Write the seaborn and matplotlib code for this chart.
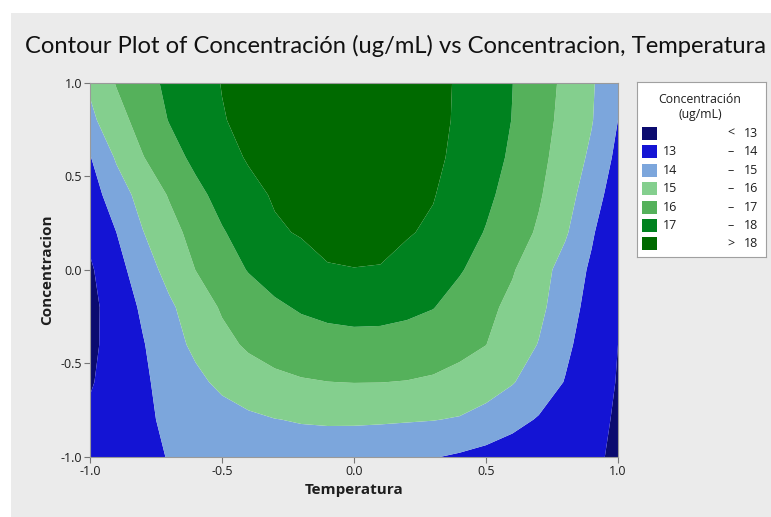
import numpy as np
import matplotlib
matplotlib.use("Agg")
import matplotlib.pyplot as plt
from matplotlib.patches import Rectangle
import seaborn as sns

# ---------------- data ----------------
temperatura = [-1.0, -0.9, -0.8, -0.7, -0.6, -0.5, -0.4, -0.3, -0.2, -0.1, 0.0,
               0.1, 0.2, 0.3, 0.4, 0.5, 0.6, 0.7, 0.8, 0.9, 1.0]
concentracion = [1.0, 0.8, 0.6, 0.4, 0.2, 0.0, -0.2, -0.4, -0.6, -0.8, -1.0]

resp_c_p10 = [15.15, 16.06, 16.67, 17.19, 17.61, 18.03, 18.30, 18.50, 18.63, 18.70, 18.70, 18.63, 18.48, 18.25, 17.90, 17.45, 17.01, 16.43, 15.81, 15.09, 14.35]
resp_c_p08 = [14.78, 15.63, 16.39, 17.04, 17.50, 17.95, 18.22, 18.42, 18.56, 18.63, 18.63, 18.56, 18.42, 18.22, 17.89, 17.44, 16.98, 16.37, 15.73, 15.06, 14.00]
resp_c_p06 = [13.95, 15.11, 15.96, 16.63, 17.22, 17.71, 18.07, 18.27, 18.40, 18.48, 18.50, 18.45, 18.33, 18.15, 17.83, 17.36, 16.86, 16.25, 15.59, 14.82, 13.75]
resp_c_p04 = [13.55, 14.51, 15.36, 16.07, 16.75, 17.30, 17.77, 18.08, 18.22, 18.30, 18.32, 18.27, 18.16, 18.04, 17.65, 17.19, 16.66, 16.10, 15.39, 14.48, 13.45]
resp_c_p02 = [13.20, 14.00, 14.97, 15.67, 16.32, 16.93, 17.38, 17.90, 18.06, 18.12, 18.15, 18.12, 18.06, 17.88, 17.40, 16.95, 16.44, 15.88, 15.12, 14.12, 13.15]
resp_c_000 = [12.88, 13.65, 14.53, 15.32, 16.01, 16.53, 17.05, 17.40, 17.68, 17.97, 17.99, 17.98, 17.76, 17.48, 17.08, 16.61, 16.08, 15.39, 14.63, 13.85, 13.10]
resp_c_m02 = [12.75, 13.43, 14.15, 14.84, 15.49, 16.10, 16.48, 16.85, 17.10, 17.25, 17.32, 17.30, 17.20, 17.03, 16.63, 16.23, 15.77, 15.22, 14.47, 13.65, 13.10]
resp_c_m04 = [12.80, 13.37, 13.94, 14.60, 15.21, 15.74, 16.13, 16.38, 16.55, 16.66, 16.71, 16.70, 16.62, 16.48, 16.26, 16.01, 15.51, 14.96, 14.19, 13.55, 13.00]
resp_c_m06 = [12.92, 13.40, 13.86, 14.32, 14.77, 15.22, 15.55, 15.78, 15.92, 15.99, 16.02, 16.01, 15.97, 15.88, 15.70, 15.45, 15.06, 14.51, 13.96, 13.45, 12.95]
resp_c_m08 = [13.15, 13.50, 13.85, 14.15, 14.40, 14.60, 14.82, 14.98, 15.06, 15.10, 15.11, 15.10, 15.07, 15.03, 14.93, 14.65, 14.28, 13.93, 13.55, 13.25, 12.90]
resp_c_m10 = [13.40, 13.62, 13.82, 14.03, 14.22, 14.38, 14.48, 14.53, 14.55, 14.52, 14.45, 14.33, 14.19, 14.04, 13.88, 13.70, 13.53, 13.37, 13.22, 13.08, 12.92]

contour_breaks = [13, 14, 15, 16, 17, 18]
legend_low = ["", "13", "14", "15", "16", "17", ""]
legend_sign = ["<", "–", "–", "–", "–", "–", ">"]
legend_high = ["13", "14", "15", "16", "17", "18", "18"]
band_colors = ["#0b0b6f", "#1414d4", "#7ca6dc", "#84cf8e", "#55b15b", "#00821f", "#006a00"]
x_ticks = [-1.0, -0.5, 0.0, 0.5, 1.0]
y_ticks = [-1.0, -0.5, 0.0, 0.5, 1.0]

title_text = "Contour Plot of Concentración (ug/mL) vs Concentracion, Temperatura"
legend_title = "Concentración\n(ug/mL)"

# ---------------- style ----------------
sns.set_theme(style="white")
plt.rcParams["font.family"] = ["Open Sans", "DejaVu Sans"]
bg = "#ebebeb"
txt = "#1e1e1e"
palette = sns.color_palette(band_colors)

W, H = 771, 517
fig = plt.figure(figsize=(W / 100, H / 100), dpi=100, facecolor=bg)

# white page strip above/left of the chart frame
fig.patches.append(Rectangle((0, 1 - 13 / H), 1, 13 / H, transform=fig.transFigure,
                             facecolor="white", edgecolor="none", zorder=-1))
fig.patches.append(Rectangle((0, 0), 11 / W, 1, transform=fig.transFigure,
                             facecolor="white", edgecolor="none", zorder=-1))

x0, x1 = 90, 618
y0, y1 = 82.5, 457
ax = fig.add_axes([x0 / W, 1 - y1 / H, (x1 - x0) / W, (y1 - y0) / H])

Z = np.array([resp_c_p10, resp_c_p08, resp_c_p06, resp_c_p04, resp_c_p02, resp_c_000,
              resp_c_m02, resp_c_m04, resp_c_m06, resp_c_m08, resp_c_m10])
X, Y = np.meshgrid(np.array(temperatura), np.array(concentracion))
levels = [0] + contour_breaks + [100]
ax.contourf(X, Y, Z, levels=levels, colors=palette, antialiased=True)

ax.set_xlim(-1, 1)
ax.set_ylim(-1, 1)
ax.set_xticks(x_ticks)
ax.set_yticks(y_ticks)
ax.set_xticklabels([f"{v:.1f}" for v in x_ticks])
ax.set_yticklabels([f"{v:.1f}" for v in y_ticks])
ax.tick_params(axis="both", direction="out", length=4, width=0.8, color="#777777",
               labelsize=9, labelcolor=txt, pad=1.5, bottom=True, left=True)
for s in ax.spines.values():
    s.set_color("#9a9a9a")
    s.set_linewidth(0.8)
ax.set_xlabel("Temperatura", fontsize=11, fontweight="bold", color=txt, labelpad=4)
ax.set_ylabel("Concentracion", fontsize=11, fontweight="bold", color=txt, labelpad=5)

# title, fitted to the reference width
t = fig.text(25 / W, 1 - 46 / H, title_text, fontsize=15, color="#111111",
             ha="left", va="center", family=["Lato", "DejaVu Sans"])
fig.canvas.draw()
bb = t.get_window_extent()
target = 766 - 25
t.set_fontsize(15 * target / bb.width)

# ---------------- legend box ----------------
lx0, ly0, lx1, ly1 = 637, 82, 766, 257
lax = fig.add_axes([lx0 / W, 1 - ly1 / H, (lx1 - lx0) / W, (ly1 - ly0) / H])
lax.set_xlim(0, lx1 - lx0)
lax.set_ylim(ly1 - ly0, 0)
lax.set_xticks([])
lax.set_yticks([])
lax.set_facecolor("white")
for s in lax.spines.values():
    s.set_color("#a0a0a0")
    s.set_linewidth(0.8)

lax.text(63, 25, legend_title, ha="center", va="center", fontsize=8.8, color=txt,
         linespacing=1.25)
row0, drow = 51.5, 18.4
for i, col in enumerate(palette):
    yc = row0 + i * drow
    lax.add_patch(Rectangle((5, yc - 6.5), 15, 13, facecolor=col, edgecolor="none"))
    if legend_low[i]:
        lax.text(26, yc, legend_low[i], ha="left", va="center", fontsize=9, color=txt)
    lax.text(94, yc, legend_sign[i], ha="center", va="center", fontsize=9, color=txt)
    lax.text(121, yc, legend_high[i], ha="right", va="center", fontsize=9, color=txt)

fig.savefig("out.png", dpi=100, facecolor=bg)
